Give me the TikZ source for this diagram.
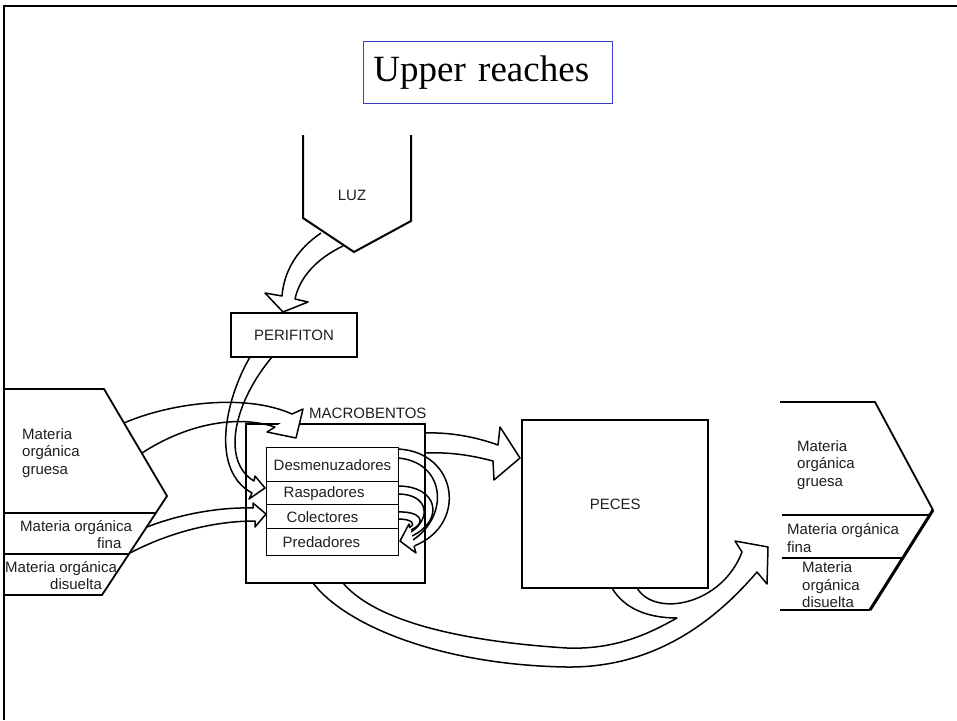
\documentclass[tikz,border=0pt]{standalone}
\usepackage{fontspec}
\setmainfont{Liberation Serif}
\newfontfamily\labelfont{Liberation Sans}
\definecolor{titleblue}{RGB}{60,60,200}
\definecolor{inkgray}{RGB}{30,30,30}
\begin{document}
\begin{tikzpicture}[x=1pt,y=-1pt,
  lbl/.style={font=\labelfont\fontsize{15}{17.5}\selectfont, text=inkgray, inner sep=0pt},
  boxline/.style={line width=2pt, line join=miter},
  flow/.style={line width=1.5pt, line join=round},
  rowbox/.style={draw, line width=1.4pt, minimum width=132pt, text width=128pt,
    inner xsep=2pt, inner ysep=0pt, align=left, anchor=north west, lbl}]
\useasboundingbox (0,0) rectangle (957,720);

% page frame
\draw[line width=2.6pt] (4,720) -- (4,6) -- (957,6);

% title
\node[draw=titleblue, line width=0.9pt, minimum width=249pt, minimum height=62pt,
  text width=229pt, inner xsep=10pt, align=left, anchor=north west,
  font=\fontsize{37}{40}\selectfont] (title) at (363,41) {Upper reaches};

% light source
\draw[boxline] (303,135) -- (303,218) -- (354,252) -- (411,221) -- (411,135);
\node[lbl] (luz) at (352,195) {LUZ};

% periphyton
\node[draw, boxline, minimum width=126pt, minimum height=44pt, anchor=north west, lbl]
  (perifiton) at (230,312) {PERIFITON};

% input organic matter
\draw[line width=1.8pt] (4,389) -- (104,389) -- (167,496) -- (102,595) -- (4,595);
\draw[line width=1.1pt] (4,513) -- (156,513) (4,554) -- (129,554);
\node[lbl, align=left, anchor=west] (ingruesa) at (22,453) {Materia\\orgánica\\gruesa};
\node[lbl, align=left, anchor=north west] (infina) at (20,520) {Materia orgánica\\\hspace*{77pt}fina};
\node[lbl, align=left, anchor=north west] (indisuelta) at (5,561) {Materia orgánica\\\hspace*{45pt}disuelta};

% output organic matter
\draw[line width=1.8pt] (780,402) -- (875,402) -- (933,510);
\draw[line width=3pt] (933,510) -- (870,610);
\draw[line width=1.8pt] (870,610) -- (780,610);
\draw[line width=1.1pt] (782,515) -- (930,515) (782,558) -- (903,558);
\node[lbl, align=left, anchor=west] (outgruesa) at (797,465) {Materia\\orgánica\\gruesa};
\node[lbl, align=left, anchor=west] (outfina) at (787,538) {Materia orgánica\\fina};
\node[lbl, align=left, anchor=west] (outdisuelta) at (802,585) {Materia\\orgánica\\disuelta};

% macrobenthos
\node[draw, line width=2.2pt, minimum width=179pt, minimum height=159pt, anchor=north west]
  (macro) at (245,423) {};
\node[lbl, anchor=west] (macrolbl) at (309,413) {MACROBENTOS};
\node[rowbox, minimum height=34pt] (desm) at (266,447) {\hspace*{5pt}Desmenuzadores};
\node[rowbox, minimum height=23pt] (rasp) at (266,481) {\hspace*{15pt}Raspadores};
\node[rowbox, minimum height=24pt] (cole) at (266,504) {\hspace*{18pt}Colectores};
\node[rowbox, minimum height=27pt] (pred) at (266,528) {\hspace*{14pt}Predadores};

% fish
\node[draw, line width=2.4pt, minimum width=186pt, minimum height=168pt, anchor=north west, lbl]
  (peces) at (521,419) {PECES};

% hollow flow arrows: heads are blanked, then shaft edges and head outline
% light -> periphyton
\fill[white] (265,293) -- (283,312) -- (308,302) -- cycle;
\draw[flow] (321,233) .. controls (296,250) and (284,272) .. (282,296)
  -- (265,293) -- (283,312) -- (308,302) -- (295,299)
  .. controls (300,276) and (318,258) .. (343,246);

% periphyton -> scrapers
\fill[white] (249,499) -- (265,488) -- (255,476) -- cycle;
\draw[flow] (250,357) .. controls (225,400) and (210,470) .. (252,493)
  -- (249,499) -- (265,488) -- (255,476) -- (254,481)
  .. controls (222,462) and (232,405) .. (272,357);

% coarse matter -> macrobenthos
\fill[white] (303,409) -- (296,438) -- (267,432) -- cycle;
\draw[flow] (124,423) .. controls (170,403) and (245,393) .. (292,414)
  -- (303,409) -- (296,438) -- (267,432) -- (275,427)
  .. controls (235,414) and (185,425) .. (142,453);

% fine matter -> collectors
\fill[white] (253,503) -- (266,514) -- (255,527) -- cycle;
\draw[flow] (147,527) .. controls (180,514) and (220,507) .. (253,508)
  -- (253,503) -- (266,514) -- (255,527) -- (255,521)
  .. controls (215,521) and (170,532) .. (130,553);

% macrobenthos -> fish
\fill[white] (500,427) -- (520,458) -- (494,480) -- cycle;
\draw[flow] (424,433) .. controls (450,432) and (476,437) .. (498,445)
  -- (500,427) -- (520,458) -- (494,480) -- (493,461)
  .. controls (470,455) and (450,452) .. (424,453);

% internal loops towards predators
\draw[flow] (398,449) .. controls (458,452) and (468,525) .. (414,546);
\draw[flow] (398,458) .. controls (445,462) and (450,515) .. (413,540);
\draw[flow] (398,486) .. controls (438,486) and (445,520) .. (412,536);
\draw[flow] (398,494) .. controls (428,494) and (432,518) .. (411,532);
\draw[flow] (398,512) .. controls (420,511) and (428,522) .. (411,530);
\draw[flow] (398,519) .. controls (412,519) and (416,524) .. (410,527);
\fill[white] (409,524) -- (400,541) -- (416,553) -- cycle;
\draw[flow] (410,528) -- (409,524) -- (400,541) -- (416,553) -- (414,546);

% export from macrobenthos and fish downstream
\fill[white] (735,541) -- (768,547) -- (767,584) -- cycle;
\draw[flow] (343,583) .. controls (370,615) and (440,640) .. (567,648)
  .. controls (620,650) and (655,630) .. (677,618)
  .. controls (650,618) and (625,610) .. (612,588);
\draw[flow] (313,583) .. controls (345,625) and (440,665) .. (567,667)
  .. controls (660,668) and (720,615) .. (757,572)
  -- (767,584) -- (768,547) -- (735,541) -- (742,552)
  .. controls (722,605) and (655,618) .. (637,588);
\end{tikzpicture}
\end{document}
